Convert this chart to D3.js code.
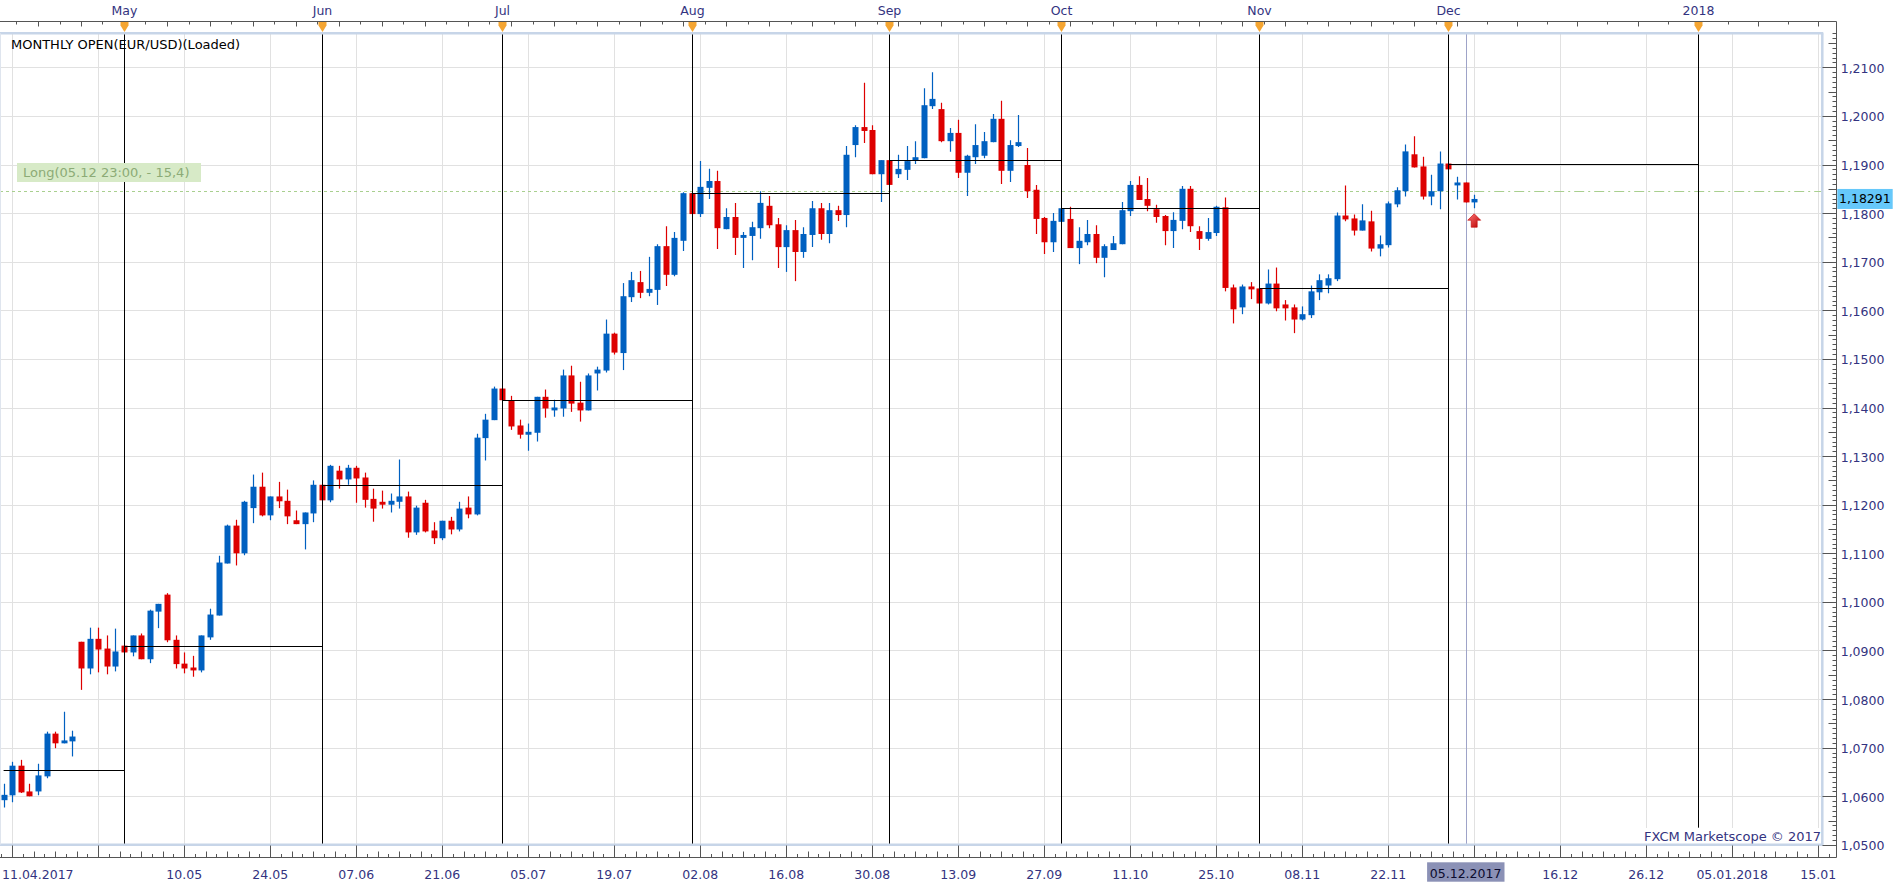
<!DOCTYPE html>
<html><head><meta charset="utf-8">
<script src="https://cdn.jsdelivr.net/npm/d3@7"></script>
<style>
html,body{margin:0;padding:0;background:#fff;overflow:hidden}
svg{display:block}
text{font-family:"DejaVu Sans",Verdana,sans-serif}
</style></head><body>
<svg id="chart" width="1903" height="887"></svg>
<script>
// ---------------- DATA ----------------
const year = 2017;
const dates = [
 "11.04","12.04","13.04","14.04","17.04","18.04","19.04","20.04","21.04","24.04","25.04","26.04","27.04","28.04",
 "01.05","02.05","03.05","04.05","05.05","08.05","09.05","10.05","11.05","12.05","15.05","16.05","17.05","18.05","19.05","22.05","23.05","24.05","25.05","26.05","29.05","30.05","31.05",
 "01.06","02.06","05.06","06.06","07.06","08.06","09.06","12.06","13.06","14.06","15.06","16.06","19.06","20.06","21.06","22.06","23.06","26.06","27.06","28.06","29.06","30.06",
 "03.07","04.07","05.07","06.07","07.07","10.07","11.07","12.07","13.07","14.07","17.07","18.07","19.07","20.07","21.07","24.07","25.07","26.07","27.07","28.07","31.07",
 "01.08","02.08","03.08","04.08","07.08","08.08","09.08","10.08","11.08","14.08","15.08","16.08","17.08","18.08","21.08","22.08","23.08","24.08","25.08","28.08","29.08","30.08","31.08",
 "01.09","04.09","05.09","06.09","07.09","08.09","11.09","12.09","13.09","14.09","15.09","18.09","19.09","20.09","21.09","22.09","25.09","26.09","27.09","28.09","29.09",
 "02.10","03.10","04.10","05.10","06.10","09.10","10.10","11.10","12.10","13.10","16.10","17.10","18.10","19.10","20.10","23.10","24.10","25.10","26.10","27.10","30.10","31.10",
 "01.11","02.11","03.11","06.11","07.11","08.11","09.11","10.11","13.11","14.11","15.11","16.11","17.11","20.11","21.11","22.11","23.11","24.11","27.11","28.11","29.11","30.11",
 "01.12","04.12","05.12","06.12"
];
const open = [
 1.0592,1.0602,1.0663,1.0610,1.0610,1.0641,1.0729,1.0709,1.0713,1.0918,1.0863,1.0924,1.0904,1.0867,
 1.0910,1.0896,1.0931,1.0882,1.0980,1.1015,1.0922,1.0873,1.0865,1.0859,1.0927,1.0972,1.1079,1.1157,1.1100,1.1193,1.1237,1.1178,1.1217,1.1208,1.1168,1.1160,1.1182,
 1.1241,1.1209,1.1270,1.1252,1.1276,1.1256,1.1212,1.1206,1.1200,1.1206,1.1217,1.1143,1.1204,1.1147,1.1131,1.1167,1.1149,1.1194,1.1180,1.1337,1.1374,1.1439,
 1.1415,1.1363,1.1344,1.1348,1.1422,1.1394,1.1398,1.1466,1.1410,1.1394,1.1470,1.1476,1.1552,1.1512,1.1627,1.1658,1.1636,1.1642,1.1732,1.1673,1.1743,
 1.1841,1.1798,1.1852,1.1866,1.1767,1.1792,1.1749,1.1753,1.1769,1.1815,1.1777,1.1730,1.1765,1.1720,1.1755,1.1810,1.1757,1.1806,1.1796,1.1940,1.1977,1.1971,1.1880,
 1.1909,1.1880,1.1889,1.1909,1.1913,1.2020,1.2014,1.1948,1.1965,1.1883,1.1915,1.1918,1.1946,1.1994,1.1887,1.1938,1.1899,1.1848,1.1790,1.1740,1.1782,
 1.1788,1.1728,1.1740,1.1757,1.1708,1.1724,1.1736,1.1804,1.1858,1.1829,1.1808,1.1794,1.1763,1.1784,1.1850,1.1763,1.1747,1.1759,1.1812,1.1647,1.1606,1.1649,
 1.1645,1.1614,1.1655,1.1612,1.1606,1.1581,1.1590,1.1637,1.1651,1.1664,1.1795,1.1789,1.1764,1.1783,1.1727,1.1734,1.1818,1.1845,1.1921,1.1896,1.1834,1.1845,
 1.1902,1.1857,1.1863,1.1822
];
const high = [
 1.0626,1.0671,1.0675,1.0626,1.0667,1.0733,1.0733,1.0774,1.0735,1.0918,1.0947,1.0947,1.0931,1.0945,
 1.0910,1.0931,1.0935,1.0984,1.0996,1.1018,1.0931,1.0896,1.0889,1.0931,1.0986,1.1095,1.1159,1.1169,1.1208,1.1262,1.1266,1.1217,1.1247,1.1231,1.1188,1.1184,1.1250,
 1.1241,1.1282,1.1280,1.1282,1.1280,1.1266,1.1233,1.1229,1.1223,1.1293,1.1227,1.1198,1.1210,1.1164,1.1167,1.1175,1.1206,1.1217,1.1346,1.1387,1.1443,1.1439,
 1.1424,1.1375,1.1367,1.1422,1.1437,1.1416,1.1478,1.1486,1.1453,1.1470,1.1484,1.1581,1.1554,1.1656,1.1679,1.1681,1.1710,1.1736,1.1773,1.1761,1.1843,
 1.1841,1.1907,1.1891,1.1887,1.1810,1.1821,1.1761,1.1782,1.1845,1.1835,1.1790,1.1775,1.1786,1.1771,1.1825,1.1821,1.1821,1.1815,1.1938,1.1981,1.2068,1.1981,1.1909,
 1.1909,1.1920,1.1938,1.1948,1.2057,1.2090,1.2027,1.1975,1.1992,1.1920,1.1983,1.1967,1.2004,1.2031,1.1950,1.2002,1.1934,1.1858,1.1792,1.1800,1.1810,
 1.1813,1.1771,1.1786,1.1775,1.1736,1.1753,1.1823,1.1866,1.1876,1.1872,1.1817,1.1796,1.1802,1.1856,1.1856,1.1773,1.1790,1.1815,1.1832,1.1653,1.1653,1.1658,
 1.1645,1.1684,1.1688,1.1621,1.1612,1.1608,1.1651,1.1674,1.1674,1.1801,1.1857,1.1797,1.1818,1.1805,1.1754,1.1824,1.1853,1.1941,1.1958,1.1916,1.1879,1.1927,
 1.1902,1.1875,1.1863,1.1838
];
const low = [
 1.0577,1.0588,1.0607,1.0600,1.0602,1.0637,1.0699,1.0709,1.0682,1.0819,1.0851,1.0855,1.0851,1.0857,
 1.0896,1.0888,1.0882,1.0874,1.0946,1.0917,1.0863,1.0853,1.0846,1.0855,1.0922,1.0972,1.1079,1.1075,1.1096,1.1162,1.1176,1.1168,1.1193,1.1160,1.1160,1.1108,1.1164,
 1.1209,1.1205,1.1233,1.1241,1.1204,1.1194,1.1165,1.1192,1.1184,1.1192,1.1132,1.1138,1.1143,1.1119,1.1127,1.1139,1.1145,1.1172,1.1178,1.1291,1.1374,1.1415,
 1.1354,1.1336,1.1311,1.1330,1.1379,1.1381,1.1381,1.1391,1.1371,1.1394,1.1435,1.1472,1.1509,1.1477,1.1617,1.1625,1.1629,1.1611,1.1650,1.1670,1.1722,
 1.1798,1.1792,1.1829,1.1726,1.1767,1.1714,1.1687,1.1703,1.1747,1.1769,1.1687,1.1679,1.1660,1.1708,1.1730,1.1745,1.1738,1.1784,1.1771,1.1915,1.1944,1.1880,1.1823,
 1.1858,1.1872,1.1868,1.1901,1.1913,1.2014,1.1946,1.1926,1.1872,1.1835,1.1901,1.1913,1.1946,1.1860,1.1864,1.1936,1.1831,1.1757,1.1716,1.1720,1.1782,
 1.1728,1.1695,1.1734,1.1697,1.1668,1.1724,1.1736,1.1794,1.1827,1.1804,1.1780,1.1734,1.1728,1.1767,1.1761,1.1724,1.1743,1.1753,1.1639,1.1573,1.1592,1.1623,
 1.1614,1.1612,1.1598,1.1579,1.1553,1.1579,1.1584,1.1621,1.1635,1.1660,1.1783,1.1754,1.1764,1.1721,1.1711,1.1729,1.1812,1.1834,1.1894,1.1828,1.1816,1.1808,
 1.1890,1.1828,1.1822,1.1810
];
const close = [
 1.0603,1.0663,1.0608,1.0600,1.0643,1.0729,1.0709,1.0715,1.0723,1.0863,1.0924,1.0902,1.0867,1.0898,
 1.0896,1.0931,1.0882,1.0982,1.0996,1.0921,1.0872,1.0863,1.0859,1.0931,1.0974,1.1081,1.1157,1.1100,1.1206,1.1237,1.1178,1.1217,1.1207,1.1176,1.1160,1.1184,1.1241,
 1.1209,1.1280,1.1252,1.1276,1.1254,1.1210,1.1192,1.1200,1.1208,1.1217,1.1143,1.1194,1.1145,1.1131,1.1167,1.1149,1.1192,1.1180,1.1338,1.1375,1.1439,1.1415,
 1.1361,1.1344,1.1350,1.1422,1.1398,1.1400,1.1466,1.1408,1.1394,1.1466,1.1478,1.1552,1.1513,1.1629,1.1662,1.1636,1.1644,1.1732,1.1673,1.1749,1.1841,
 1.1798,1.1854,1.1866,1.1769,1.1792,1.1749,1.1755,1.1771,1.1821,1.1775,1.1730,1.1765,1.1720,1.1757,1.1810,1.1757,1.1806,1.1796,1.1920,1.1977,1.1969,1.1880,1.1909,
 1.1858,1.1891,1.1907,1.1915,1.2022,1.2035,1.1948,1.1965,1.1883,1.1918,1.1940,1.1948,1.1994,1.1887,1.1940,1.1946,1.1845,1.1788,1.1740,1.1784,1.1810,
 1.1728,1.1743,1.1757,1.1708,1.1732,1.1738,1.1806,1.1858,1.1827,1.1815,1.1792,1.1763,1.1786,1.1850,1.1773,1.1747,1.1761,1.1813,1.1646,1.1602,1.1649,1.1643,
 1.1614,1.1655,1.1604,1.1604,1.1581,1.1592,1.1639,1.1662,1.1666,1.1795,1.1787,1.1764,1.1785,1.1727,1.1736,1.1820,1.1847,1.1927,1.1894,1.1834,1.1845,1.1902,
 1.1890,1.1863,1.1822,1.18291
];
// monthly open indicator
const monthNames = ["Apr","May","Jun","Jul","Aug","Sep","Oct","Nov","Dec","2018"];
const monthStart = ["01.04.2017","01.05.2017","01.06.2017","01.07.2017","01.08.2017","01.09.2017","01.10.2017","01.11.2017","01.12.2017","01.01.2018"];
const monthOpen  = [1.0655,1.0909,1.1241,1.1416,1.1841,1.1909,1.1810,1.1645,1.1901];
// bottom axis ticks (grid) and labels
const gridDates = ["12.04.2017","26.04.2017","10.05.2017","24.05.2017","07.06.2017","21.06.2017","05.07.2017","19.07.2017","02.08.2017","16.08.2017","30.08.2017","13.09.2017","27.09.2017","11.10.2017","25.10.2017","08.11.2017","22.11.2017","06.12.2017","16.12.2017","26.12.2017","05.01.2018","15.01.2018"];
const gridLabels = ["","","10.05","24.05","07.06","21.06","05.07","19.07","02.08","16.08","30.08","13.09","27.09","11.10","25.10","08.11","22.11","","16.12","26.12","05.01.2018","15.01"];
const firstDateLabel = "11.04.2017";
const cursorDate = "05.12.2017";
const currentPrice = 1.18291;
const positionPrice = 1.1845;
const positionText = "Long(05.12 23:00, - 15,4)";
const indicatorTitle = "MONTHLY OPEN(EUR/USD)(Loaded)";
const copyright = "FXCM Marketscope \u00A9 2017";
const yTicks = [1.05,1.06,1.07,1.08,1.09,1.10,1.11,1.12,1.13,1.14,1.15,1.16,1.17,1.18,1.19,1.20,1.21];

// ---------------- LAYOUT ----------------
const plot = {l:0, r:1822.3, t:33.3, b:844.5};
const axisRX = 1836.5, topAxisY = 21.5, botAxisY = 857.5;
const slotW = 8.6, firstSlotX = 3.6;
const BLUE = "#0060c0", RED = "#dd0000", TXT = "#333380";

const parse = d3.timeParse("%d.%m.%Y");
const barDates = dates.map(d => parse(d + "." + year));
const base = barDates[0], last = barDates[barDates.length-1];
function weekdays(a, b){ // weekdays in (a,b]
  let n = 0, d = a;
  while (d < b){ d = d3.timeDay.offset(d,1); const w = d.getDay(); if (w!==0 && w!==6) n++; }
  return n;
}
const lastSlot = weekdays(base, last);
function slotOf(dt){
  if (dt <= last) return weekdays(base, dt);
  return lastSlot + d3.timeDay.count(last, dt);
}
const x = d3.scaleLinear().domain([0,1]).range([firstSlotX, firstSlotX + slotW]);
const y = d3.scaleLinear().domain([1.05, 1.21]).range([844.9, 67.3]);
const fmt = v => d3.format(".4f")(v).replace(".", ",");

const svg = d3.select("#chart");
const defs = svg.append("defs");
defs.append("clipPath").attr("id","pc").append("rect")
  .attr("x",plot.l).attr("y",plot.t).attr("width",plot.r-plot.l).attr("height",plot.b-plot.t);
const g = defs.append("linearGradient").attr("id","arr").attr("x1",0).attr("y1",0).attr("x2",1).attr("y2",1);
g.append("stop").attr("offset","0%").attr("stop-color","#ff7777");
g.append("stop").attr("offset","100%").attr("stop-color","#b80000");

const P = svg.append("g").attr("clip-path","url(#pc)");

// grid
P.selectAll(".hg").data(yTicks).join("line")
  .attr("x1",plot.l).attr("x2",plot.r).attr("y1",d=>Math.round(y(d))+0.5).attr("y2",d=>Math.round(y(d))+0.5)
  .attr("stroke","#e1e1e1").attr("stroke-width",1);
const gridX = gridDates.map(d => x(slotOf(parse(d))));
P.selectAll(".vg").data(gridX).join("line")
  .attr("x1",d=>Math.round(d)+0.5).attr("x2",d=>Math.round(d)+0.5).attr("y1",plot.t).attr("y2",plot.b)
  .attr("stroke","#e1e1e1").attr("stroke-width",1);

// position level line
const lastX = x(lastSlot);
const py = Math.round(y(positionPrice)) + 0.5;
P.append("line").attr("x1",plot.l).attr("x2",lastX).attr("y1",py).attr("y2",py)
  .attr("stroke","#a9cf8f").attr("stroke-width",1).attr("stroke-dasharray","3,3");
P.append("line").attr("x1",lastX).attr("x2",plot.r).attr("y1",py).attr("y2",py)
  .attr("stroke","#a9cf8f").attr("stroke-width",1).attr("stroke-dasharray","10,4,2,4");

// cursor line
const cx = x(slotOf(parse(cursorDate)));
P.append("line").attr("x1",Math.round(cx)+0.5).attr("x2",Math.round(cx)+0.5).attr("y1",plot.t).attr("y2",plot.b)
  .attr("stroke","#9ea3c8").attr("stroke-width",1);

// candles
const bars = barDates.map((d,i)=>({s:slotOf(d), o:open[i], h:high[i], l:low[i], c:close[i]}));
const C = P.append("g");
C.selectAll(".wk").data(bars).join("line")
  .attr("x1",d=>Math.round(x(d.s))+0.5).attr("x2",d=>Math.round(x(d.s))+0.5)
  .attr("y1",d=>y(d.h)).attr("y2",d=>y(d.l))
  .attr("stroke",d=>d.c>=d.o?BLUE:RED).attr("stroke-width",1.2);
C.selectAll(".bd").data(bars).join("rect")
  .attr("x",d=>Math.round(x(d.s))-2.5).attr("width",6)
  .attr("y",d=>y(Math.max(d.o,d.c)))
  .attr("height",d=>Math.max(1.5, Math.abs(y(d.o)-y(d.c))))
  .attr("fill",d=>d.c>=d.o?BLUE:RED);

// month separators & monthly open lines
const mX = monthStart.map(d => x(slotOf(parse(d))));
for (let i=1;i<mX.length;i++){
  const xx = Math.round(mX[i])+0.5;
  P.append("line").attr("x1",xx).attr("x2",xx).attr("y1",plot.t).attr("y2", i===mX.length-1 ? 827.7 : plot.b)
    .attr("stroke","#000").attr("stroke-width",1);
}
monthOpen.forEach((v,i)=>{
  const yy = Math.round(y(v))+0.5;
  P.append("line").attr("x1",Math.max(plot.l,mX[i])).attr("x2",Math.round(mX[i+1])+0.5).attr("y1",yy).attr("y2",yy)
    .attr("stroke","#000").attr("stroke-width",1);
});

// arrow under last candle
const ax = x(lastSlot), ay = y(low[low.length-1]) + 5.5;
P.append("path")
  .attr("d",`M${ax},${ay} L${ax+6.5},${ay+6.5} L${ax+3},${ay+6.5} L${ax+3},${ay+13.5} L${ax-3},${ay+13.5} L${ax-3},${ay+6.5} L${ax-6.5},${ay+6.5} Z`)
  .attr("fill","url(#arr)").attr("stroke","#c00000").attr("stroke-width",0.6);

// texts inside plot
svg.append("text").attr("x",11).attr("y",48.5).attr("font-size",13).attr("fill","#000").text(indicatorTitle);
svg.append("rect").attr("x",17).attr("y",163).attr("width",184).attr("height",19).attr("fill","#d7eac7");
svg.append("text").attr("x",23).attr("y",177).attr("font-size",13).attr("fill","#8cab76").text(positionText);
svg.append("rect").attr("x",1638).attr("y",828).attr("width",183).attr("height",16).attr("fill","#fff");
svg.append("text").attr("x",1821).attr("y",840.5).attr("text-anchor","end").attr("font-size",13).attr("fill",TXT).text(copyright);

// plot borders
svg.append("line").attr("x1",0).attr("x2",plot.r+1).attr("y1",plot.t).attr("y2",plot.t).attr("stroke","#c7d5e8").attr("stroke-width",2.5);
svg.append("line").attr("x1",0).attr("x2",plot.r+1).attr("y1",plot.b+0.3).attr("y2",plot.b+0.3).attr("stroke","#c7d5e8").attr("stroke-width",2.5);
svg.append("line").attr("x1",plot.r).attr("x2",plot.r).attr("y1",plot.t).attr("y2",plot.b).attr("stroke","#c7d5e8").attr("stroke-width",2.5);
svg.append("line").attr("x1",0.5).attr("x2",0.5).attr("y1",plot.t).attr("y2",plot.b).attr("stroke","#dfe5ee").attr("stroke-width",1);

// ---------------- AXES ----------------
const AX = svg.append("g").attr("stroke","#555").attr("stroke-width",1);
// top axis
AX.append("line").attr("x1",0).attr("x2",axisRX).attr("y1",topAxisY).attr("y2",topAxisY);
const topTicks = [];
for (let s=-1; s<=lastSlot; s+=2.5) topTicks.push({s, big: Math.round((s+1)/2.5)%2===0});
for (let s=lastSlot+5-3.5; x(s)<axisRX-2; s+=3.5) topTicks.push({s, big: Math.round((s-lastSlot-5)/3.5)%2===0});
AX.selectAll(".tt").data(topTicks.filter(d=>x(d.s)>0)).join("line")
  .attr("x1",d=>Math.round(x(d.s))+0.5).attr("x2",d=>Math.round(x(d.s))+0.5)
  .attr("y1",topAxisY).attr("y2",d=>topAxisY+(d.big?5:3));
// month markers
for (let i=1;i<mX.length;i++){
  const xx = Math.round(mX[i])+0.5;
  svg.append("path").attr("d",`M${xx-4},${topAxisY+0.5} L${xx+4},${topAxisY+0.5} L${xx+4},${topAxisY+4} L${xx},${topAxisY+10.5} L${xx-4},${topAxisY+4} Z`)
    .attr("fill","#f5a531");
  svg.append("text").attr("x",xx).attr("y",15).attr("text-anchor","middle").attr("font-size",12.5).attr("fill",TXT).text(monthNames[i]);
}
// bottom axis
AX.append("line").attr("x1",0).attr("x2",axisRX).attr("y1",botAxisY).attr("y2",botAxisY);
const firstGrid = slotOf(parse(gridDates[0]));
const botTicks = [];
for (let k=-1; ; k++){ const s = firstGrid + k*1.25; if (x(s) > axisRX-3) break; if (x(s)>=0) botTicks.push({s, k}); }
AX.selectAll(".bt").data(botTicks).join("line")
  .attr("x1",d=>Math.round(x(d.s))+0.5).attr("x2",d=>Math.round(x(d.s))+0.5)
  .attr("y1",botAxisY).attr("y2",d=>botAxisY-((d.k%8+8)%8===0?12:((d.k%2+2)%2===0?6:3.5)));
svg.selectAll(".bl").data(gridLabels.map((t,i)=>({t, x:gridX[i]})).filter(d=>d.t)).join("text")
  .attr("x",d=>d.x).attr("y",878.5).attr("text-anchor","middle").attr("font-size",12.5).attr("fill",TXT).text(d=>d.t);
svg.append("text").attr("x",2).attr("y",878.5).attr("font-size",12.5).attr("fill",TXT).text(firstDateLabel);
svg.append("rect").attr("x",cx-38.5).attr("y",862.3).attr("width",77.4).attr("height",19.4).attr("fill","#8b91b6");
svg.append("text").attr("x",cx).attr("y",877.5).attr("text-anchor","middle").attr("font-size",12.5).attr("fill","#0b0b2e").text(cursorDate);

// right axis
AX.append("line").attr("x1",axisRX).attr("x2",axisRX).attr("y1",topAxisY).attr("y2",botAxisY);
const minor = d3.range(1050, 1218, 1).map(v=>v/1000);
AX.selectAll(".rt").data(minor.filter(v=>y(v)>=topAxisY+10)).join("line")
  .attr("x1",axisRX).attr("x2",d=>{const m=Math.round(d*1000)%10; return axisRX-(m===0?14:(m===5?8:4));})
  .attr("y1",d=>Math.round(y(d))+0.5).attr("y2",d=>Math.round(y(d))+0.5);
svg.selectAll(".yl").data(yTicks).join("text")
  .attr("x",axisRX+4.2).attr("y",d=>y(d)+5.5).attr("font-size",12.5).attr("fill",TXT).text(d=>fmt(d));
// current price label
svg.append("rect").attr("x",1837.3).attr("y",y(currentPrice)-10).attr("width",55.4).attr("height",20).attr("fill","#66c8fa");
svg.append("text").attr("x",1839).attr("y",y(currentPrice)+4.5).attr("font-size",12.5).attr("fill","#000")
  .text(d3.format(".5f")(currentPrice).replace(".", ","));
</script>
</body></html>
